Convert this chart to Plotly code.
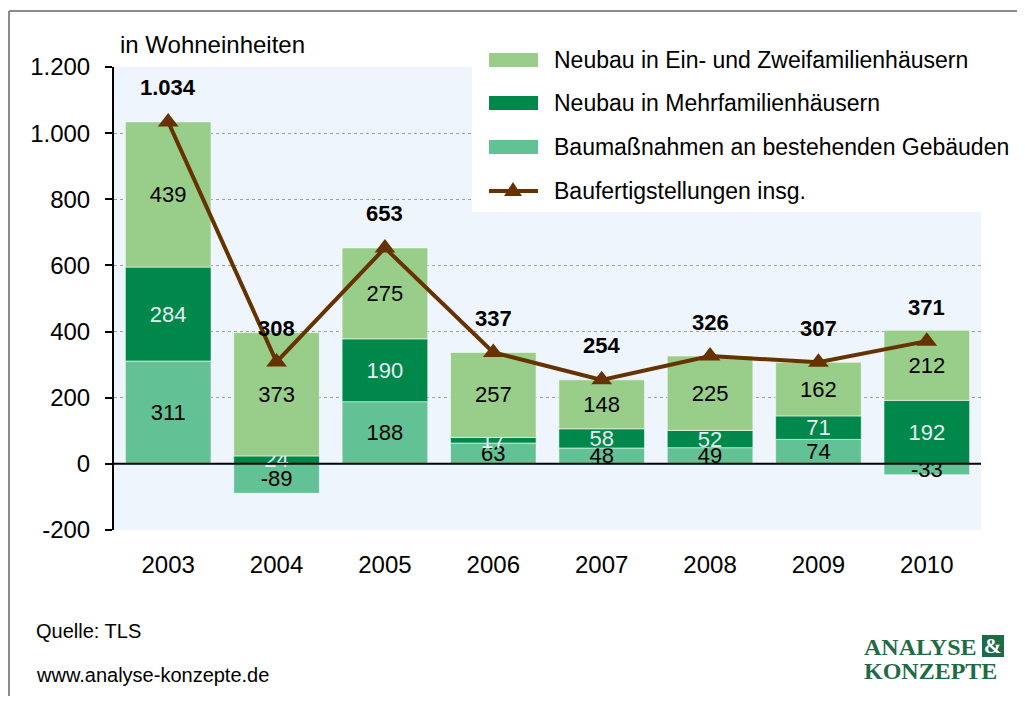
import plotly.graph_objects as go

# ---------------- data ----------------
years = ["2003", "2004", "2005", "2006", "2007", "2008", "2009", "2010"]
ezfh = [439, 373, 275, 257, 148, 225, 162, 212]        # Neubau in Ein- und Zweifamilienhäusern
mfh = [284, 24, 190, 17, 58, 52, 71, 192]              # Neubau in Mehrfamilienhäusern
bestand = [311, -89, 188, 63, 48, 49, 74, -33]         # Baumaßnahmen an bestehenden Gebäuden
total = [1034, 308, 653, 337, 254, 326, 307, 371]      # Baufertigstellungen insg.
y_ticks = [-200, 0, 200, 400, 600, 800, 1000, 1200]

name_ezfh = "Neubau in Ein- und Zweifamilienhäusern"
name_mfh = "Neubau in Mehrfamilienhäusern"
name_best = "Baumaßnahmen an bestehenden Gebäuden"
name_total = "Baufertigstellungen insg."

C_EZFH = "#98CE8A"
C_MFH = "#00884A"
C_BEST = "#63C295"
C_LINE = "#663300"
C_LOGO = "#1F6B47"
FONT = "Tahoma, 'Liberation Sans', Arial, sans-serif"


def de(v):
    return f"{v:,}".replace(",", ".")


# ---------------- geometry (page pixels) ----------------
OFF = 8
W, H = 1025 - 2 * OFF, 704 - 2 * OFF
PL, PR, PT, PB = 114, 981, 67, 530


def fx(p):
    return (p - PL) / (PR - PL)


def fy(p):
    return (PB - p) / (PB - PT)


fig = go.Figure()

bar_common = dict(textposition="inside", insidetextanchor="middle", textangle=0,
                  marker_line=dict(color="rgba(255,255,255,0.55)", width=1))
fig.add_trace(go.Bar(x=years, y=bestand, name=name_best, marker_color=C_BEST,
                     text=[str(v) for v in bestand],
                     insidetextfont=dict(color="black", size=22, family=FONT), **bar_common))
fig.add_trace(go.Bar(x=years, y=mfh, name=name_mfh, marker_color=C_MFH,
                     text=[str(v) for v in mfh],
                     insidetextfont=dict(color="#E4EDF2", size=22, family=FONT), **bar_common))
fig.add_trace(go.Bar(x=years, y=ezfh, name=name_ezfh, marker_color=C_EZFH,
                     text=[str(v) for v in ezfh],
                     insidetextfont=dict(color="black", size=22, family=FONT), **bar_common))
fig.add_trace(go.Scatter(x=years, y=total, name=name_total, mode="lines+markers",
                         line=dict(color=C_LINE, width=4),
                         marker=dict(symbol="triangle-up", size=18, color=C_LINE)))

annotations = []
for i, t in enumerate(total):
    annotations.append(dict(x=i, y=t, xref="x", yref="y", text=f"<b>{de(t)}</b>",
                            showarrow=False, yshift=34,
                            font=dict(size=22, color="black", family=FONT)))

shapes = []
# zero line
shapes.append(dict(type="line", xref="paper", yref="y", x0=0, x1=1, y0=0, y1=0,
                   line=dict(color="black", width=2)))
# outer frame (left + top)
shapes.append(dict(type="line", xref="paper", yref="paper", x0=fx(OFF + 1), x1=fx(1030),
                   y0=fy(11), y1=fy(11), line=dict(color="#8C8C8C", width=2)))
shapes.append(dict(type="line", xref="paper", yref="paper", x0=fx(OFF + 1), x1=fx(OFF + 1),
                   y0=fy(11), y1=fy(720), line=dict(color="#8C8C8C", width=2)))
# legend box
shapes.append(dict(type="rect", xref="paper", yref="paper", x0=fx(472), x1=fx(1022),
                   y0=fy(212), y1=fy(36), fillcolor="white", line=dict(width=0)))
leg_rows = [(name_ezfh, C_EZFH, 60), (name_mfh, C_MFH, 103), (name_best, C_BEST, 147)]
for nm, col, yc in leg_rows:
    shapes.append(dict(type="rect", xref="paper", yref="paper", x0=fx(489), x1=fx(538),
                       y0=fy(yc + 7), y1=fy(yc - 7), fillcolor=col, line=dict(width=0)))
    annotations.append(dict(x=fx(552), y=fy(yc), xref="paper", yref="paper", text=nm,
                            showarrow=False, xanchor="left", yanchor="middle",
                            font=dict(size=23, color="black", family=FONT)))
yl = 191
shapes.append(dict(type="line", xref="paper", yref="paper", x0=fx(489), x1=fx(538),
                   y0=fy(yl), y1=fy(yl), line=dict(color=C_LINE, width=4)))
shapes.append(dict(type="path", xref="paper", yref="paper",
                   path=f"M {fx(513)},{fy(yl - 9)} L {fx(504)},{fy(yl + 5)} L {fx(522)},{fy(yl + 5)} Z",
                   fillcolor=C_LINE, line=dict(width=0)))
annotations.append(dict(x=fx(552), y=fy(yl), xref="paper", yref="paper", text=name_total,
                        showarrow=False, xanchor="left", yanchor="middle",
                        font=dict(size=23, color="black", family=FONT)))

# unit label
annotations.append(dict(x=fx(118), y=fy(45), xref="paper", yref="paper", text="in Wohneinheiten",
                        showarrow=False, xanchor="left", yanchor="middle",
                        font=dict(size=24, color="black", family=FONT)))
# footer
annotations.append(dict(x=fx(34), y=fy(631), xref="paper", yref="paper", text="Quelle: TLS",
                        showarrow=False, xanchor="left", yanchor="middle",
                        font=dict(size=20, color="black", family=FONT)))
annotations.append(dict(x=fx(34), y=fy(675), xref="paper", yref="paper",
                        text="www.analyse-konzepte.de",
                        showarrow=False, xanchor="left", yanchor="middle",
                        font=dict(size=20, color="black", family=FONT)))
# logo
SERIF = "'Liberation Serif', 'Times New Roman', serif"
annotations.append(dict(x=fx(862), y=fy(647), xref="paper", yref="paper", text="<b>ANALYSE</b>",
                        showarrow=False, xanchor="left", yanchor="middle",
                        font=dict(size=24, color=C_LOGO, family=SERIF)))
annotations.append(dict(x=fx(862), y=fy(671), xref="paper", yref="paper", text="<b>KONZEPTE</b>",
                        showarrow=False, xanchor="left", yanchor="middle",
                        font=dict(size=24, color=C_LOGO, family=SERIF)))
shapes.append(dict(type="rect", xref="paper", yref="paper", x0=fx(982), x1=fx(1004),
                   y0=fy(657), y1=fy(635), fillcolor=C_LOGO, line=dict(width=0)))
annotations.append(dict(x=fx(993), y=fy(646), xref="paper", yref="paper", text="<b>&amp;</b>",
                        showarrow=False, xanchor="center", yanchor="middle",
                        font=dict(size=21, color="white", family=SERIF)))

fig.update_layout(
    width=W, height=H,
    margin=dict(l=PL - OFF, r=W - (PR - OFF), t=PT - OFF, b=H - (PB - OFF), pad=0),
    paper_bgcolor="white", plot_bgcolor="#EEF5FD",
    barmode="relative", bargap=0.21,
    showlegend=False,
    font=dict(family=FONT, size=22, color="black"),
    uniformtext=dict(minsize=22, mode="show"),
    shapes=shapes, annotations=annotations,
)
fig.update_xaxes(type="category", range=[-0.5, len(years) - 0.5],
                 showline=False, ticks="", showgrid=False,
                 tickfont=dict(size=24, color="black", family=FONT), ticklabelstandoff=18)
fig.update_yaxes(range=[-200, 1200], tickvals=y_ticks, ticktext=[de(v) for v in y_ticks],
                 showline=True, linecolor="black", linewidth=2,
                 ticks="outside", ticklen=7, tickwidth=2, tickcolor="black",
                 showgrid=True, gridcolor="#A0A0A0", griddash="dot", gridwidth=1,
                 zeroline=False,
                 tickfont=dict(size=24, color="black", family=FONT), ticklabelstandoff=10)

fig.write_html("out.html")
